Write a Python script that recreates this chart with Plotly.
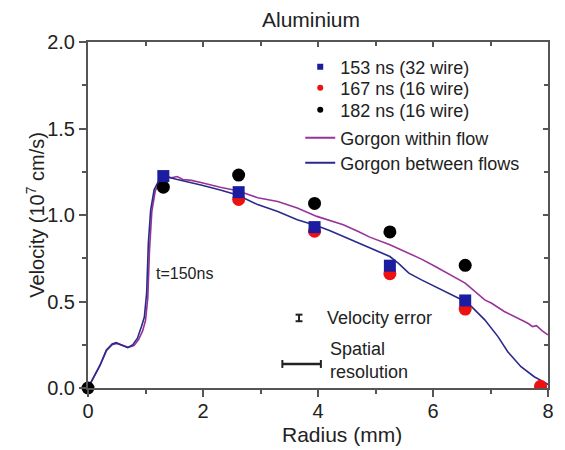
import plotly.graph_objects as go

# ---------------- data ----------------
# Measured velocities (10^7 cm/s) vs radius (mm)
r153 = [1.31, 2.62, 3.94, 5.25, 6.56]
v153 = [1.225, 1.132, 0.930, 0.707, 0.506]

r167 = [2.62, 3.94, 5.25, 6.56, 7.87]
v167 = [1.090, 0.906, 0.661, 0.456, 0.010]

r182 = [0.0, 1.31, 2.62, 3.94, 5.25, 6.56]
v182 = [0.0, 1.161, 1.231, 1.067, 0.902, 0.709]

# Gorgon simulation, t=150 ns
r_between = [0, 0.1, 0.21, 0.32, 0.42, 0.49, 0.58, 0.69, 0.78, 0.86, 0.93, 0.98, 1.02, 1.05,
             1.09, 1.15, 1.24, 1.35, 1.5, 1.7, 2.0, 2.3, 2.6, 2.95, 3.3, 3.64, 3.98, 4.2,
             4.44, 4.7, 4.9, 5.1, 5.25, 5.4, 5.58, 5.8, 6.04, 6.2, 6.39, 6.56, 6.67, 6.9,
             7.13, 7.3, 7.53, 7.76, 7.9, 8.0]
v_between = [0, 0.06, 0.133, 0.22, 0.255, 0.262, 0.25, 0.233, 0.25, 0.288, 0.355, 0.41, 0.548,
             0.84, 1.03, 1.146, 1.204, 1.222, 1.21, 1.195, 1.17, 1.145, 1.115, 1.06, 1.02,
             0.973, 0.938, 0.91, 0.876, 0.84, 0.809, 0.785, 0.76, 0.72, 0.664, 0.625, 0.586,
             0.56, 0.529, 0.50, 0.47, 0.394, 0.297, 0.21, 0.123, 0.065, 0.04, 0.02]

r_within = [0, 0.1, 0.21, 0.32, 0.42, 0.5, 0.6, 0.7, 0.8, 0.88, 0.95, 1.0, 1.04, 1.07, 1.11,
            1.17, 1.26, 1.36, 1.45, 1.55, 1.65, 1.8, 2.0, 2.3, 2.6, 2.95, 3.3, 3.64, 3.98,
            4.2, 4.44, 4.7, 4.9, 5.25, 5.58, 5.8, 6.04, 6.3, 6.56, 6.9, 7.02, 7.24, 7.45,
            7.59, 7.67, 7.73, 7.8, 7.9, 8.0]
v_within = [0, 0.06, 0.13, 0.215, 0.25, 0.258, 0.248, 0.235, 0.245, 0.28, 0.33, 0.39, 0.52,
            0.8, 1.02, 1.14, 1.2, 1.225, 1.215, 1.222, 1.205, 1.2, 1.185, 1.16, 1.14, 1.10,
            1.078, 1.04, 0.992, 0.97, 0.944, 0.905, 0.872, 0.828, 0.78, 0.745, 0.702, 0.655,
            0.606, 0.509, 0.49, 0.442, 0.41, 0.384, 0.37, 0.355, 0.36, 0.33, 0.307]

x_ticks = [0, 2, 4, 6, 8]
y_ticks = [0.0, 0.5, 1.0, 1.5, 2.0]

# ---------------- style ----------------
FONT = "Liberation Sans, Arial, sans-serif"
AX = "#555555"
C_BLUE = "#1c1ca0"
C_RED = "#ee1111"
C_BLACK = "#000000"
C_PURPLE = "#993399"
C_NAVY = "#2a2a8a"

fig = go.Figure()

# simulation lines
fig.add_trace(go.Scatter(x=r_within, y=v_within, mode="lines",
                         line=dict(color=C_PURPLE, width=1.6), showlegend=False))
fig.add_trace(go.Scatter(x=r_between, y=v_between, mode="lines",
                         line=dict(color=C_NAVY, width=1.6), showlegend=False))

# measurement markers
fig.add_trace(go.Scatter(x=r182, y=v182, mode="markers", cliponaxis=False,
                         marker=dict(symbol="circle", size=13, color=C_BLACK), showlegend=False))
fig.add_trace(go.Scatter(x=r167, y=v167, mode="markers", cliponaxis=True,
                         marker=dict(symbol="circle", size=13, color=C_RED), showlegend=False))
fig.add_trace(go.Scatter(x=r153, y=v153, mode="markers", cliponaxis=False,
                         marker=dict(symbol="square", size=12, color=C_BLUE), showlegend=False))

# legend-only entries (small symbols)
leg_items = [
    ("153 ns (32 wire)", dict(mode="markers", marker=dict(symbol="square", size=6, color=C_BLUE)), 67),
    ("167 ns (16 wire)", dict(mode="markers", marker=dict(symbol="circle", size=6, color=C_RED)), 88),
    ("182 ns (16 wire)", dict(mode="markers", marker=dict(symbol="circle", size=6, color=C_BLACK)), 110),
    ("Gorgon within flow", dict(mode="lines", line=dict(color=C_PURPLE, width=2)), 138),
    ("Gorgon between flows", dict(mode="lines", line=dict(color=C_NAVY, width=2)), 163),
]
H_PLOT = 346.0
TOP = 42.0
legend_layouts = {}
for i, (name, kw, ypx) in enumerate(leg_items):
    lname = "legend" if i == 0 else f"legend{i+1}"
    fig.add_trace(go.Scatter(x=[None], y=[None], name=name, showlegend=True, legend=lname, **kw))
    legend_layouts[lname] = dict(
        x=(303 - 88) / 466.0, xanchor="left",
        y=1 - (ypx - TOP) / H_PLOT, yanchor="middle",
        bgcolor="rgba(0,0,0,0)", borderwidth=0,
        font=dict(family=FONT, size=18, color="#222222"),
    )

# dummy trace for mirrored axes
fig.add_trace(go.Scatter(x=[None], y=[None], xaxis="x2", yaxis="y2",
                         showlegend=False, hoverinfo="skip"))

axis_common = dict(showgrid=False, zeroline=False, showline=True, linecolor=AX,
                   linewidth=2, tickcolor=AX, tickwidth=2)

fig.update_layout(
    width=565, height=450,
    margin=dict(l=88, r=11, t=42, b=62),
    paper_bgcolor="white", plot_bgcolor="white",
    font=dict(family=FONT, color="#222222"),
    title=dict(text="Aluminium", font=dict(family=FONT, size=21, color="#222222"),
               xref="container", x=311 / 565, xanchor="center",
               yref="container", y=1 - 20 / 450, yanchor="middle"),
    xaxis=dict(range=[0, 8], tickvals=x_ticks, ticks="outside", ticklen=7,
               ticklabelstandoff=-3,
               tickfont=dict(size=20, family=FONT, color="#222222"),
               minor=dict(dtick=1, ticks="outside", ticklen=4, tickcolor=AX, tickwidth=1.5),
               **axis_common),
    yaxis=dict(range=[0, 2], tickvals=y_ticks, tickformat=".1f", ticks="outside", ticklen=7,
               tickfont=dict(size=20, family=FONT, color="#222222"),
               minor=dict(dtick=0.25, ticks="outside", ticklen=4, tickcolor=AX, tickwidth=1.5),
               **axis_common),
    xaxis2=dict(range=[0, 8], overlaying="x", side="top", tickvals=x_ticks, ticks="inside",
                ticklen=5, showticklabels=False,
                minor=dict(dtick=1, ticks="inside", ticklen=4, tickcolor=AX, tickwidth=1.5),
                **axis_common),
    yaxis2=dict(range=[0, 2], overlaying="y", side="right", tickvals=y_ticks, ticks="inside",
                ticklen=5, showticklabels=False,
                minor=dict(dtick=0.25, ticks="inside", ticklen=4, tickcolor=AX, tickwidth=1.5),
                **axis_common),
    showlegend=True,
    **legend_layouts,
)

# axis titles
fig.add_annotation(text="Radius (mm)", xref="paper", yref="paper",
                   x=(345 - 88) / 466.0, y=-(434 - 388) / H_PLOT, xanchor="center", yanchor="middle",
                   showarrow=False, font=dict(family=FONT, size=21, color="#222222"))
fig.add_annotation(text="Velocity (10<sup>7</sup> cm/s)", xref="paper", yref="paper",
                   x=(34 - 88) / 466.0, y=0.5, xanchor="center", yanchor="middle", textangle=-90,
                   showarrow=False, font=dict(family=FONT, size=20, color="#222222"))

# in-plot annotations
fig.add_annotation(text="t=150ns", x=1.15, y=0.66, xanchor="left", yanchor="middle",
                   showarrow=False, font=dict(family=FONT, size=16, color="#222222"))
fig.add_annotation(text="Velocity error", x=4.12, y=0.405, xanchor="left", yanchor="middle",
                   showarrow=False, font=dict(family=FONT, size=18, color="#222222"))
fig.add_annotation(text="Spatial<br>resolution", x=4.17, y=0.16, xanchor="left", yanchor="middle",
                   align="left", showarrow=False, font=dict(family=FONT, size=18, color="#222222"))

# error-bar and resolution symbols
LC = "#222222"
shapes = [
    dict(type="line", x0=3.67, x1=3.67, y0=0.386, y1=0.424, line=dict(color=LC, width=2)),
    dict(type="line", x0=3.61, x1=3.73, y0=0.386, y1=0.386, line=dict(color=LC, width=2)),
    dict(type="line", x0=3.61, x1=3.73, y0=0.424, y1=0.424, line=dict(color=LC, width=2)),
    dict(type="line", x0=3.38, x1=4.05, y0=0.139, y1=0.139, line=dict(color=LC, width=2.5)),
    dict(type="line", x0=3.38, x1=3.38, y0=0.116, y1=0.162, line=dict(color=LC, width=2)),
    dict(type="line", x0=4.05, x1=4.05, y0=0.116, y1=0.162, line=dict(color=LC, width=2)),
]
for s in shapes:
    fig.add_shape(xref="x", yref="y", **s)

fig.write_html("out.html", config={"displayModeBar": False},
               post_script="document.body.style.margin='0';document.body.style.overflow='hidden';")
